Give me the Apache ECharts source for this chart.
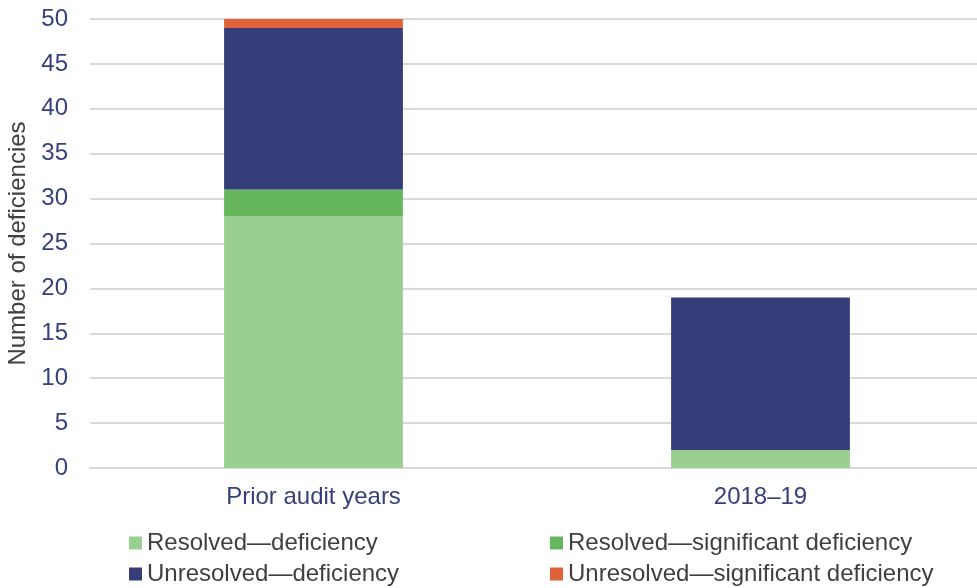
<!DOCTYPE html>
<html>
<head>
<meta charset="utf-8">
<script src="https://cdn.jsdelivr.net/npm/echarts@6/dist/echarts.min.js"></script>
<style>
  html, body { margin: 0; padding: 0; background: #fff; }
  #chart { width: 977px; height: 588px; }
</style>
</head>
<body>
<div id="chart"></div>
<script>
var categories = ["Prior audit years", "2018\u201319"];
var seriesNames = [
    "Resolved\u2014deficiency",
    "Resolved\u2014significant deficiency",
    "Unresolved\u2014deficiency",
    "Unresolved\u2014significant deficiency"
];
var resolvedDeficiency = [28, 2];
var resolvedSignificant = [3, 0];
var unresolvedDeficiency = [18, 17];
var unresolvedSignificant = [1, 0];
var yTicks = { min: 0, max: 50, interval: 5 };

var chart = echarts.init(document.getElementById("chart"));

var font = "'Liberation Sans', Arial, sans-serif";
var blue = "#36417c";
var grey = "#404040";

function bar(name, data, color) {
    return {
        name: name,
        type: "bar",
        stack: "total",
        barWidth: "40%",
        data: data,
        itemStyle: { color: color },
        emphasis: { disabled: true }
    };
}

// one legend per item so the two columns line up like the original
function legendItem(name, left, top) {
    return {
        left: left,
        top: top,
        padding: 0,
        itemWidth: 13,
        itemHeight: 13,
        icon: "rect",
        textStyle: { fontFamily: font, fontSize: 24, color: grey },
        data: [name]
    };
}

chart.setOption({
    animation: false,
    textStyle: { fontFamily: font },
    grid: { left: 90, right: -7, top: 19, bottom: 120, outerBoundsMode: "none", containLabel: false },
    legend: [
        legendItem(seriesNames[0], 129, 531),
        legendItem(seriesNames[1], 550, 531),
        legendItem(seriesNames[2], 129, 562),
        legendItem(seriesNames[3], 550, 562)
    ],
    xAxis: {
        type: "category",
        data: categories,
        axisLine: { lineStyle: { color: "#d9d9d9", width: 2 } },
        axisTick: { show: false },
        axisLabel: { fontSize: 24, color: blue, margin: 17 }
    },
    yAxis: {
        type: "value",
        min: yTicks.min,
        max: yTicks.max,
        interval: yTicks.interval,
        name: "Number of deficiencies",
        nameLocation: "middle",
        nameGap: 56,
        nameTextStyle: { fontSize: 24, color: grey },
        axisLabel: { fontSize: 24, color: blue, margin: 22 },
        splitLine: { lineStyle: { color: "#d9d9d9", width: 2 } }
    },
    series: [
        bar(seriesNames[0], resolvedDeficiency, "#99cf8f"),
        bar(seriesNames[1], resolvedSignificant, "#66b65d"),
        bar(seriesNames[2], unresolvedDeficiency, "#363e7a"),
        bar(seriesNames[3], unresolvedSignificant, "#e0623a")
    ]
});
</script>
</body>
</html>
